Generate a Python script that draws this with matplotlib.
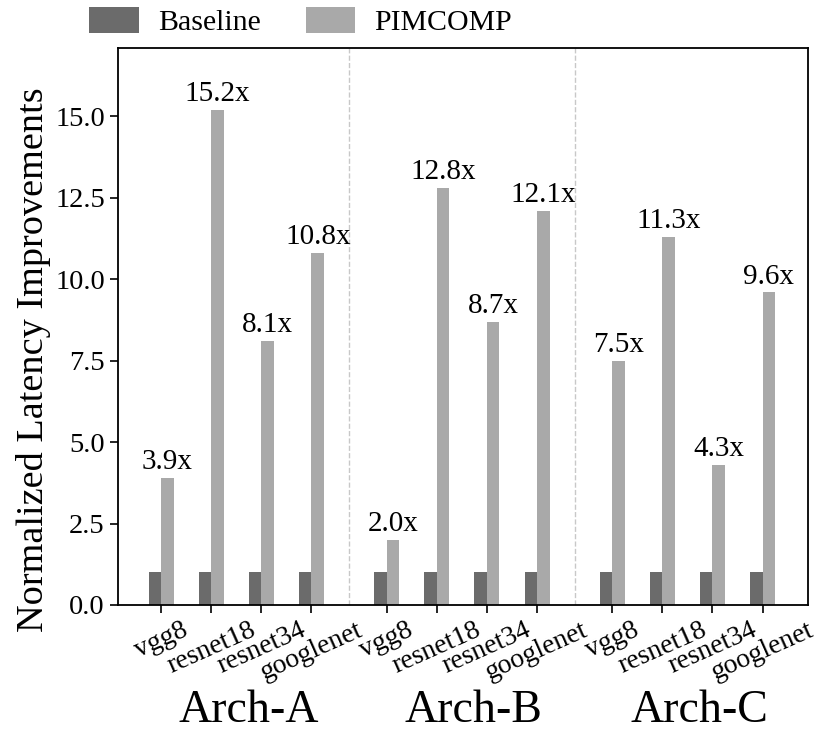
import matplotlib
matplotlib.use("Agg")
import matplotlib.pyplot as plt
import numpy as np

archs = ["Arch-A", "Arch-B", "Arch-C"]
models = ["vgg8", "resnet18", "resnet34", "googlenet"]
baseline = [1.0] * 12
pimcomp = [3.9, 15.2, 8.1, 10.8,
           2.0, 12.8, 8.7, 12.1,
           7.5, 11.3, 4.3, 9.6]

plt.rcParams['font.family'] = ['Liberation Serif', 'DejaVu Serif']

# positions: 4 per group, 1.5 gap between groups
x = np.array([g * 4.5 + i for g in range(3) for i in range(4)], dtype=float)
w = 0.25

fig = plt.figure(figsize=(8.31, 7.36), dpi=100)
ax = fig.add_axes([0.142, 0.178, 0.830, 0.757])

b1 = ax.bar(x - w / 2, baseline, w, color='#6b6b6b', label='Baseline')
b2 = ax.bar(x + w / 2, pimcomp, w, color='#a9a9a9', label='PIMCOMP')

for xi, v in zip(x, pimcomp):
    ax.text(xi + w / 2, v + 0.08, f"{v:.1f}x", ha='center', va='bottom', fontsize=21)

for sep in [3.75, 8.25]:
    ax.axvline(sep, color='#c8c8c8', linestyle='--', linewidth=1)

ax.set_xlim(-0.86, 12.9)
ax.set_ylim(0, 17.1)
ax.set_yticks(np.arange(0, 15.1, 2.5))
ax.set_yticklabels([f"{t:.1f}" for t in np.arange(0, 15.1, 2.5)], fontsize=20.5)
ax.set_xticks(x)
ax.set_xticklabels(models * 3, rotation=24, ha='center', fontsize=20)
ax.tick_params(axis='x', pad=3, length=6, width=1.2)
ax.tick_params(axis='y', length=6, width=1.2)
for s in ax.spines.values():
    s.set_linewidth(1.3)

ax.set_ylabel("Normalized Latency Improvements", fontsize=27.5)
ax.yaxis.set_label_coords(-0.097, 0.44)

for g, name in enumerate(archs):
    ax.text(g * 4.5 + 1.74, -0.21, name, transform=ax.get_xaxis_transform(),
            ha='center', va='baseline', fontsize=33)

fig.legend(handles=[b1, b2], loc='center', bbox_to_anchor=(0.362, 0.971), ncol=2,
           frameon=False, fontsize=21.5, handlelength=1.65, handleheight=0.95,
           columnspacing=1.5, handletextpad=0.65)

fig.savefig("out.png", dpi=100)
